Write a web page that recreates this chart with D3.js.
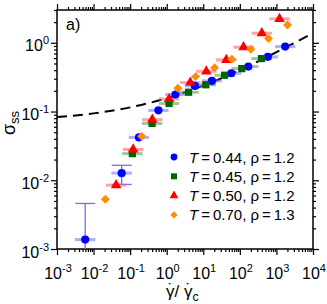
<!DOCTYPE html>
<html>
<head>
<meta charset="utf-8">
<script src="https://cdn.jsdelivr.net/npm/d3@7"></script>
<style>
  body { margin: 0; background: #fff; }
  text { font-family: "Liberation Sans", Arial, sans-serif; fill: #000; }
</style>
</head>
<body>
<div class="chart"></div>
<script>
// svg size
var svgWidth = 327;
var svgHeight = 304;

var margin = { top: 10, right: 14, bottom: 55, left: 57 };
var width = svgWidth - margin.left - margin.right;
var height = svgHeight - margin.top - margin.bottom;

// data (shear rate / critical rate, steady-state stress)
var gammaBlue  = [0.0059, 0.0586, 0.174, 0.593, 1.73, 5.89, 17.2, 58.2, 170, 582, 1738];
var sigmaBlue  = [0.00137, 0.0127, 0.042, 0.104, 0.177, 0.236, 0.279, 0.36, 0.451, 0.624, 0.881];
var sigmaBlueLo = [0.0004, 0.0087, null, null, null, null, null, null, null, null, null];
var sigmaBlueHi = [0.0046, 0.0165, null, null, null, null, null, null, null, null, null];

var gammaGreen = [0.115, 0.399, 1.16, 3.96, 11.7, 38.2, 113, 392];
var sigmaGreen = [0.0244, 0.0671, 0.131, 0.191, 0.245, 0.337, 0.421, 0.589];

var gammaRed   = [0.0414, 0.121, 0.404, 1.16, 4.41, 12.1, 42.5, 126, 399, 1216];
var sigmaRed   = [0.00849, 0.0281, 0.0762, 0.152, 0.264, 0.384, 0.564, 0.863, 1.38, 2.23];

var gammaOrange = [0.021, 0.206, 2.02, 6.16, 20.4, 60.4, 200, 608, 2010];
var sigmaOrange = [0.00528, 0.0436, 0.218, 0.322, 0.435, 0.577, 0.807, 1.15, 1.82];

// x uncertainty (multiplicative) per series
var xErrBlue = 1.9, xErrGreen = 1.9, xErrRed = 1.9, xErrOrange = null;

// dashed fit curve, sampled from the figure
var fitGamma = [1e-3, 1e-2, 1e-1, 1, 10, 100, 1000, 1e4];
var fitSigma = [0.083, 0.094, 0.115, 0.156, 0.238, 0.40, 0.73, 1.39];

var xTickExps = [-3, -2, -1, 0, 1, 2, 3, 4];
var yTickExps = [-3, -2, -1, 0];

var legendLabels = [
  { T: "0.44", rho: "1.2" },
  { T: "0.45", rho: "1.2" },
  { T: "0.50", rho: "1.2" },
  { T: "0.70", rho: "1.3" }
];

var series = [
  { g: gammaBlue, s: sigmaBlue, lo: sigmaBlueLo, hi: sigmaBlueHi, xe: xErrBlue, color: "#0000ff", bar: "#6f6fff", shape: "circle" },
  { g: gammaGreen, s: sigmaGreen, xe: xErrGreen, color: "#006400", bar: "#4f9a4f", shape: "square" },
  { g: gammaRed, s: sigmaRed, xe: xErrRed, color: "#ff0000", bar: "#ff5a5a", shape: "triangle" },
  { g: gammaOrange, s: sigmaOrange, xe: xErrOrange, color: "#ff8c00", bar: "#ff8c00", shape: "diamond" }
];

var svg = d3.select(".chart")
  .append("svg")
  .attr("width", svgWidth)
  .attr("height", svgHeight);

var chartGroup = svg.append("g")
  .attr("transform", `translate(${margin.left}, ${margin.top})`);

var xLogScale = d3.scaleLog().domain([1e-3, 1e4]).range([0, width]);
var yLogScale = d3.scaleLog().domain([1e-3, 3]).range([height, 0]);

// minor tick values
var xMinor = [];
for (var e = -3; e < 4; e++) for (var m = 2; m < 10; m++) xMinor.push(m * Math.pow(10, e));
var yMinor = [];
for (var e = -3; e <= 0; e++) for (var m = 2; m < 10; m++) {
  var v = m * Math.pow(10, e);
  if (v <= 3) yMinor.push(v);
}
var xMajor = xTickExps.map(d => Math.pow(10, d));
var yMajor = yTickExps.map(d => Math.pow(10, d));

function addAxis(axisFn, scale, vals, size, transform) {
  var g = chartGroup.append("g")
    .attr("transform", transform)
    .call(axisFn(scale).tickValues(vals).tickSize(size).tickFormat(""));
  g.select(".domain").remove();
  g.selectAll("line").attr("stroke", "#000").attr("stroke-width", 1.2);
}

addAxis(d3.axisBottom, xLogScale, xMajor, 6, `translate(0, ${height})`);
addAxis(d3.axisBottom, xLogScale, xMinor, 3, `translate(0, ${height})`);
addAxis(d3.axisTop, xLogScale, xMajor, 6, "translate(0,0)");
addAxis(d3.axisTop, xLogScale, xMinor, 3, "translate(0,0)");
addAxis(d3.axisLeft, yLogScale, yMajor, 6, "translate(0,0)");
addAxis(d3.axisLeft, yLogScale, yMinor, 3, "translate(0,0)");
addAxis(d3.axisRight, yLogScale, yMajor, 6, `translate(${width},0)`);
addAxis(d3.axisRight, yLogScale, yMinor, 3, `translate(${width},0)`);

// frame
chartGroup.append("rect")
  .attr("width", width)
  .attr("height", height)
  .attr("fill", "none")
  .attr("stroke", "#000")
  .attr("stroke-width", 1.5);

// tick labels with superscripts
var xLabels = chartGroup.selectAll(".xlab")
  .data(xTickExps)
  .enter()
  .append("text")
  .attr("class", "xlab")
  .attr("x", d => xLogScale(Math.pow(10, d)) + 1)
  .attr("y", height + 30)
  .attr("text-anchor", "middle")
  .style("font-size", "16px");
xLabels.append("tspan").text("10");
xLabels.append("tspan").attr("dy", -7).style("font-size", "11px").text(d => d < 0 ? "-" + (-d) : d);

var yLabels = chartGroup.selectAll(".ylab")
  .data(yTickExps)
  .enter()
  .append("text")
  .attr("class", "ylab")
  .attr("x", -8)
  .attr("y", d => yLogScale(Math.pow(10, d)) + 8.5)
  .attr("text-anchor", "end")
  .style("font-size", "16px");
yLabels.append("tspan").text("10");
yLabels.append("tspan").attr("dy", -7).style("font-size", "11px").text(d => d < 0 ? "-" + (-d) : d);

// clip for curve / data
chartGroup.append("clipPath").attr("id", "clip")
  .append("rect").attr("width", width).attr("height", height);

var plotArea = chartGroup.append("g").attr("clip-path", "url(#clip)");

// dashed fit line
var fitData = fitGamma.map((g, i) => ({ g: g, s: fitSigma[i] }));
plotArea.append("path")
  .datum(fitData)
  .attr("fill", "none")
  .attr("stroke", "#000")
  .attr("stroke-width", 2)
  .attr("stroke-dasharray", "10,6")
  .attr("d", d3.line()
    .x(d => xLogScale(d.g))
    .y(d => yLogScale(d.s))
    .curve(d3.curveMonotoneX));

function symbolPath(shape, size) {
  if (shape === "circle") return d3.symbol(d3.symbolCircle, size)();
  if (shape === "square") return d3.symbol(d3.symbolSquare, size)();
  if (shape === "triangle") return d3.symbol(d3.symbolTriangle, size)();
  return d3.symbol(d3.symbolSquare, size)();
}

// error bars
series.forEach(function(ser) {
  var pts = ser.g.map((g, i) => ({ g: g, s: ser.s[i], lo: ser.lo ? ser.lo[i] : null, hi: ser.hi ? ser.hi[i] : null }));
  if (ser.xe) {
    plotArea.selectAll(null)
      .data(pts)
      .enter()
      .append("line")
      .attr("x1", d => xLogScale(d.g / ser.xe))
      .attr("x2", d => xLogScale(d.g * ser.xe))
      .attr("y1", d => yLogScale(d.s))
      .attr("y2", d => yLogScale(d.s))
      .attr("stroke", ser.bar)
      .attr("stroke-width", 3)
      .attr("opacity", 0.55);
  }
  var vpts = pts.filter(d => d.hi != null);
  vpts.forEach(function(d) {
    var cx = xLogScale(d.g);
    plotArea.append("line")
      .attr("x1", cx).attr("x2", cx)
      .attr("y1", yLogScale(d.lo)).attr("y2", yLogScale(d.hi))
      .attr("stroke", ser.bar).attr("stroke-width", 1.3);
    [d.lo, d.hi].forEach(function(v) {
      plotArea.append("line")
        .attr("x1", cx - 10).attr("x2", cx + 10)
        .attr("y1", yLogScale(v)).attr("y2", yLogScale(v))
        .attr("stroke", ser.bar).attr("stroke-width", 1.3);
    });
  });
});

// markers
series.forEach(function(ser) {
  var pts = ser.g.map((g, i) => ({ g: g, s: ser.s[i] }));
  var size = ser.shape === "triangle" ? 48 : (ser.shape === "diamond" ? 40 : 52);
  chartGroup.selectAll(null)
    .data(pts)
    .enter()
    .append("path")
    .attr("d", symbolPath(ser.shape, size))
    .attr("transform", d => `translate(${xLogScale(d.g)}, ${yLogScale(d.s)})` + (ser.shape === "diamond" ? " rotate(45)" : ""))
    .attr("fill", ser.color);
});

// legend
var legend = chartGroup.append("g").attr("transform", "translate(117, 147)");
legendLabels.forEach(function(lab, i) {
  var ser = series[i];
  var row = legend.append("g").attr("transform", `translate(0, ${i * 19.3})`);
  row.append("path")
    .attr("d", symbolPath(ser.shape, ser.shape === "triangle" ? 34 : (ser.shape === "diamond" ? 26 : 36)))
    .attr("transform", ser.shape === "diamond" ? "rotate(45)" : null)
    .attr("fill", ser.color);
  var t = row.append("text")
    .attr("x", 15)
    .attr("y", 5.5)
    .style("font-size", "15px");
  t.append("tspan").style("font-style", "italic").text("T");
  t.append("tspan").text("\u2009=\u2009" + lab.T + ", \u03c1\u2009=\u2009" + lab.rho);
});

// panel label
chartGroup.append("text")
  .attr("x", 9)
  .attr("y", 20)
  .style("font-size", "16px")
  .text("a)");

// axis titles
var yTitle = svg.append("text")
  .attr("transform", "translate(15, 123) rotate(-90)")
  .attr("text-anchor", "middle")
  .style("font-size", "18px");
yTitle.append("tspan").text("\u03c3");
yTitle.append("tspan").attr("dy", 4).style("font-size", "13px").text("ss");

// gamma-dot over gamma-dot_c, dots placed as separate glyphs
var xTitle = svg.append("text")
  .attr("x", margin.left + width / 2 - 19)
  .attr("y", 297)
  .style("font-size", "17px");
xTitle.append("tspan").text("\u03b3");
xTitle.append("tspan").attr("dx", -7.1).attr("dy", -2).text("\u02d9");
xTitle.append("tspan").attr("dx", 1.5).attr("dy", 2).text("/ \u03b3");
xTitle.append("tspan").attr("dx", -7.1).attr("dy", -2).text("\u02d9");
xTitle.append("tspan").attr("dx", 1.5).attr("dy", 6).style("font-size", "12px").text("c");
</script>
</body>
</html>
